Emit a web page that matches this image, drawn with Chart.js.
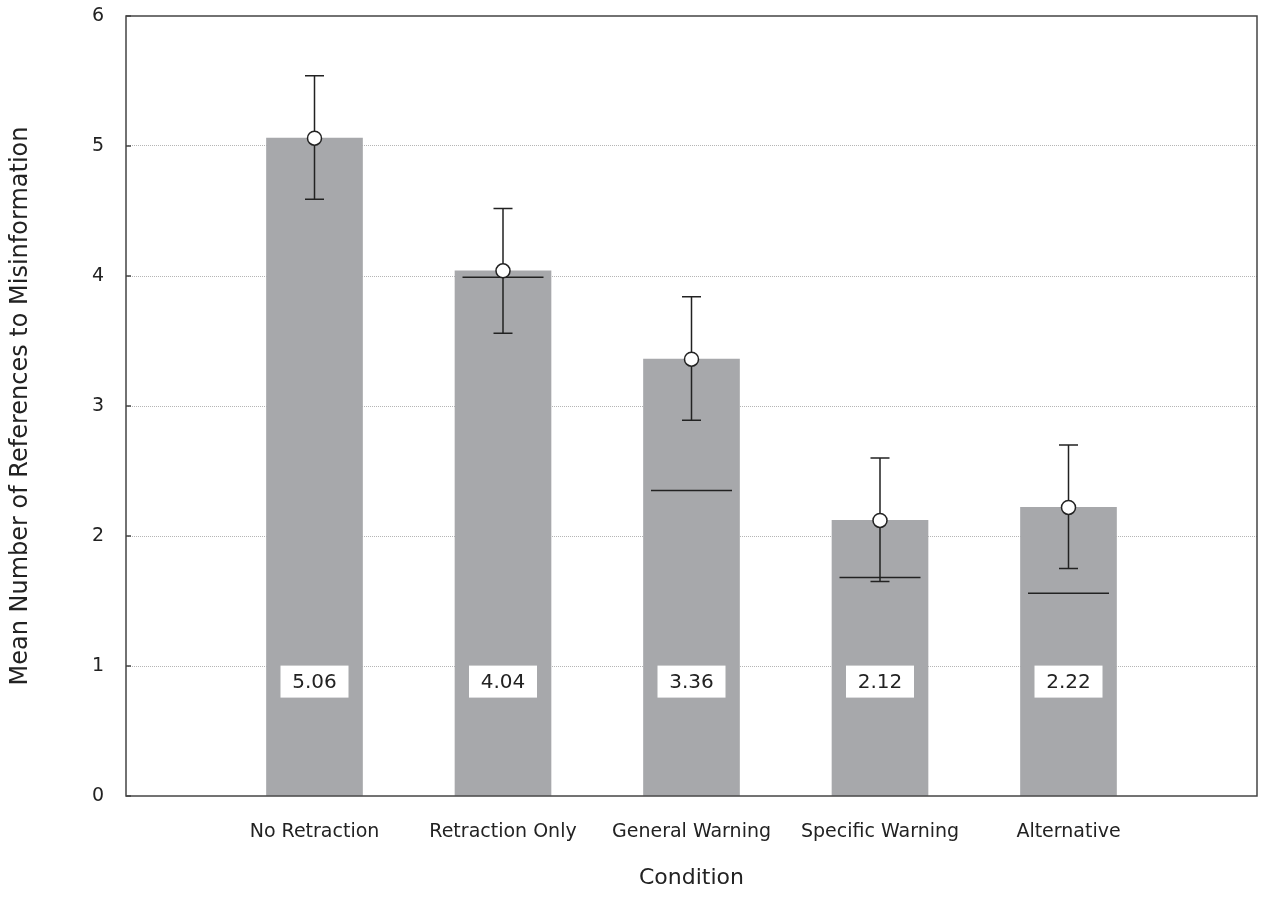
<!DOCTYPE html>
<html>
<head>
<meta charset="utf-8">
<script src="https://cdn.jsdelivr.net/npm/chart.js@4/dist/chart.umd.min.js"></script>
<style>
  html, body { margin: 0; padding: 0; background: #fff; }
</style>
</head>
<body>
<canvas id="chart" width="1261" height="905"></canvas>
<script>
// data
const categories = ['No Retraction', 'Retraction Only', 'General Warning', 'Specific Warning', 'Alternative'];
const means = [5.06, 4.04, 3.36, 2.12, 2.22];
const errHigh = [5.54, 4.52, 3.84, 2.60, 2.70];
const errLow = [4.59, 3.56, 2.89, 1.65, 1.75];
const medians = [null, 3.99, 2.35, 1.68, 1.56];
const meanLabels = ['5.06', '4.04', '3.36', '2.12', '2.22'];
const yTicks = [0, 1, 2, 3, 4, 5, 6];

const LABEL_Y = 0.88; // where the value boxes sit
const FONT = '"DejaVu Sans", Verdana, sans-serif';
const INK = '#222';

const positions = categories.map((c, i) => i + 1);

function noPad(scale) {
    scale.paddingTop = 0;
    scale.paddingBottom = 0;
    scale.paddingLeft = 0;
    scale.paddingRight = 0;
}

// error bars + median lines, drawn under the circles
const whiskers = {
    id: 'whiskers',
    beforeDatasetDraw(chart, args) {
        if (args.index !== 1) return;
        const ctx = chart.ctx;
        const x = chart.scales.x, y = chart.scales.y;
        ctx.save();
        ctx.strokeStyle = INK;
        ctx.lineWidth = 1.5;
        positions.forEach((p, i) => {
            const px = x.getPixelForValue(p);
            const top = y.getPixelForValue(errHigh[i]);
            const bot = y.getPixelForValue(errLow[i]);
            ctx.beginPath();
            ctx.moveTo(px, top); ctx.lineTo(px, bot);
            ctx.moveTo(px - 9.5, top); ctx.lineTo(px + 9.5, top);
            ctx.moveTo(px - 9.5, bot); ctx.lineTo(px + 9.5, bot);
            ctx.stroke();
            if (medians[i] != null) {
                const my = y.getPixelForValue(medians[i]);
                ctx.beginPath();
                ctx.moveTo(px - 40.5, my); ctx.lineTo(px + 40.5, my);
                ctx.stroke();
            }
        });
        ctx.restore();
    },
    afterDatasetsDraw(chart) {
        const ctx = chart.ctx;
        const x = chart.scales.x, y = chart.scales.y;
        const a = chart.chartArea;
        ctx.save();
        // value boxes
        ctx.font = '20px ' + FONT;
        ctx.textAlign = 'center';
        ctx.textBaseline = 'middle';
        positions.forEach((p, i) => {
            const px = x.getPixelForValue(p);
            const py = y.getPixelForValue(LABEL_Y);
            ctx.fillStyle = '#fff';
            ctx.fillRect(px - 34, py - 16, 68, 32);
            ctx.fillStyle = INK;
            ctx.fillText(meanLabels[i], px, py + 1);
        });
        // frame and small inward ticks
        ctx.strokeStyle = '#444';
        ctx.lineWidth = 1.5;
        ctx.strokeRect(a.left, a.top, a.right - a.left, a.bottom - a.top);
        ctx.beginPath();
        yTicks.forEach(t => {
            const py = y.getPixelForValue(t);
            ctx.moveTo(a.left, py); ctx.lineTo(a.left + 5, py);
        });
        ctx.stroke();
        ctx.restore();
    }
};

new Chart(document.getElementById('chart'), {
    data: {
        datasets: [{
            type: 'bar',
            data: positions.map((p, i) => ({ x: p, y: means[i] })),
            backgroundColor: '#a7a8ab',
            barThickness: 96,
            order: 2
        }, {
            type: 'scatter',
            data: positions.map((p, i) => ({ x: p, y: means[i] })),
            pointRadius: 7,
            pointBackgroundColor: '#fff',
            pointBorderColor: INK,
            pointBorderWidth: 1.5,
            order: 1
        }]
    },
    options: {
        responsive: false,
        animation: false,
        devicePixelRatio: 1,
        layout: { autoPadding: false, padding: { top: 16, right: 4, left: 0, bottom: 0 } },
        plugins: { legend: { display: false }, tooltip: { enabled: false } },
        scales: {
            x: {
                type: 'linear',
                min: 0,
                max: 6,
                offset: false,
                afterBuildTicks(scale) { scale.ticks = positions.map(v => ({ value: v })); },
                afterFit(scale) { scale.height = 109; noPad(scale); },
                grid: { display: false },
                border: { display: false },
                ticks: {
                    callback: v => categories[v - 1] || '',
                    font: { family: FONT, size: 19 },
                    color: INK,
                    padding: 17,
                    maxRotation: 0,
                    autoSkip: false
                },
                title: {
                    display: true,
                    text: 'Condition',
                    font: { family: FONT, size: 22 },
                    color: INK,
                    padding: { top: 0, bottom: 14 }
                }
            },
            y: {
                min: 0,
                max: 6,
                afterBuildTicks(scale) { scale.ticks = yTicks.map(v => ({ value: v })); },
                afterFit(scale) { scale.width = 126; noPad(scale); },
                grid: {
                    drawTicks: false,
                    color: c => (c.tick && (c.tick.value === 0 || c.tick.value === 6)) ? 'rgba(0,0,0,0)' : '#b5b5b5',
                    lineWidth: 1
                },
                border: { display: false, dash: [1, 1] },
                ticks: {
                    font: { family: FONT, size: 19 },
                    color: INK,
                    padding: 22
                },
                title: {
                    display: true,
                    text: 'Mean Number of References to Misinformation',
                    font: { family: FONT, size: 24 },
                    color: INK,
                    padding: { top: 6, bottom: 0 }
                }
            }
        }
    },
    plugins: [whiskers]
});
</script>
</body>
</html>
